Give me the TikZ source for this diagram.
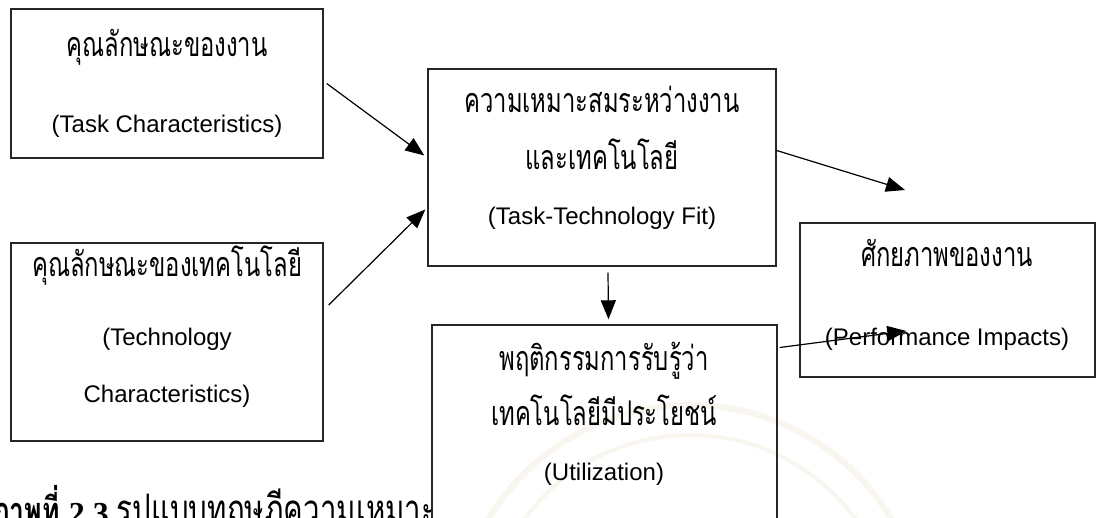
\documentclass[tikz,border=0pt]{standalone}
\usepackage{fontspec}
\setmainfont{Liberation Sans}
\newfontfamily\thai[Script=Thai,FakeStretch=0.70]{Loma}
\newfontfamily\capserif{Liberation Serif}
\usetikzlibrary{arrows.meta,calc,fit}
\definecolor{wmark}{RGB}{249,246,239}
\begin{document}
\begin{tikzpicture}[x=0.5pt,y=-0.5pt,
  box/.style={draw=black!85, line width=0.7pt, inner sep=0pt},
  en/.style={font=\fontsize{12}{14}\selectfont, anchor=base, inner sep=0pt},
  th/.style={font=\thai\fontsize{17}{19}\selectfont, anchor=base, inner sep=0pt},
  arr/.style={draw=black, line width=0.6pt, -{Triangle[length=9.5pt,width=7.5pt]}}]
\useasboundingbox (0,0) rectangle (1097,518);
\clip (0,0) rectangle (1097,518);
\fill[white] (0,0) rectangle (1097,518);
% faint watermark
\draw[wmark, line width=3pt] (690,640) circle[radius=235];
\draw[wmark, line width=2pt] (690,640) circle[radius=205];
% caption (covered by the Utilization box)
\begin{scope}
\clip (0,0) rectangle (431,518);
\node[anchor=base west, inner sep=0pt] (cap) at (-8,524)
  {\thai\fontsize{19}{21}\selectfont\bfseries ภาพที่ \capserif\fontsize{16}{18}\selectfont 2.3 \thai\fontsize{21}{23}\selectfont\mdseries รูปแบบทฤษฎีความเหมาะสมระหว่างงาน};
\end{scope}
% boxes
\node[box, fit={(11,9) (323,158)}] (task) {};
\node[box, fit={(11,243) (323,441)}] (tech) {};
\node[box, fit={(428,69) (776,266)}] (ttf) {};
\node[box, fit={(800,223) (1095,377)}] (perf) {};
\node[box, fit={(432,325) (777,540)}] (util) {};
% texts
\node[th] (task1) at (167,57) {คุณลักษณะของงาน};
\node[en] (task2) at (167,133) {(Task Characteristics)};
\node[th] (tech1) at (167,277) {คุณลักษณะของเทคโนโลยี};
\node[en] (tech2) at (167,345) {(Technology};
\node[en] (tech3) at (167,402) {Characteristics)};
\node[th] (ttf1) at (602,113) {ความเหมาะสมระหว่างงาน};
\node[th] (ttf2) at (602,170) {และเทคโนโลยี};
\node[en] (ttf3) at (602,225) {(Task-Technology Fit)};
\node[th] (perf1) at (947,267) {ศักยภาพของงาน};
\node[en] (perf2) at (947,345) {(Performance Impacts)};
\node[th] (util1) at (604,370) {พฤติกรรมการรับรู้ว่า};
\node[th] (util2) at (604,425) {เทคโนโลยีมีประโยชน์};
\node[en] (util3) at (604,480) {(Utilization)};
% connectors
\coordinate (free) at (905,190);
\draw[arr] ($(task.east)+(3,0)$) -- ($(ttf.west)+(-3,-12)$);
\draw[arr] ($(tech.east)+(5,-37)$) -- ($(ttf.west)+(-2,42)$);
\draw[arr] ($(ttf.east)+(0,-17)$) -- (free);
\draw[arr] ($(ttf.south)+(6,6)$) -- ($(util.north)+(4,-5)$);
\draw[arr] ($(util.east)+(2,-85)$) -- ($(perf.west)+(107,31)$);
\end{tikzpicture}
\end{document}
